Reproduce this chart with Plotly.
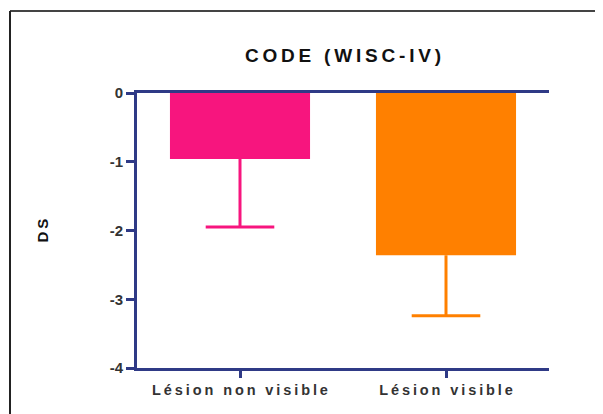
import plotly.graph_objects as go

# data
groups = ["Lésion non visible", "Lésion visible"]
means = [-0.96, -2.36]
err_down = [0.99, 0.88]
colors = ["#F7157E", "#FF8000"]
y_ticks = [0, -1, -2, -3, -4]

AXIS = "#2F3A86"
TXT = "#333333"
TS = "\u2009"  # thin space, to mimic the spaced-out lettering

# the page body adds an 8px offset, so the layout is laid out from (8, 8)
OFF = 8
L, R, T, B = 137 - OFF, 549 - OFF, 93 - OFF, 368 - OFF
PW, PH = R - L, B - T


def spaced(s):
    return TS.join(s)


fig = go.Figure()

for i, (g, m, e, c) in enumerate(zip(groups, means, err_down, colors)):
    fig.add_trace(go.Bar(
        x=[i],
        y=[m],
        marker=dict(color=c, line=dict(width=0)),
        width=0.68,
        error_y=dict(type="data", symmetric=False, array=[0], arrayminus=[e],
                     color=c, thickness=3, width=0),
        showlegend=False,
        name=g,
    ))
    # cap only at the lower end of the error bar
    fig.add_trace(go.Scatter(
        x=[i],
        y=[m - e],
        mode="markers",
        marker=dict(symbol="line-ew", size=49, color=c, line=dict(color=c, width=3)),
        showlegend=False,
        hoverinfo="skip",
    ))

fig.update_layout(
    width=603, height=414,
    margin=dict(l=L, r=603 - R, t=T, b=414 - B),
    paper_bgcolor="white",
    plot_bgcolor="white",
    font=dict(family="Liberation Sans, Arial, sans-serif", color=TXT),
    title=dict(text="<b>" + spaced("CODE (WISC-IV)") + "</b>",
               x=(343 - OFF) / 603, xanchor="center", y=1 - (55 - OFF) / 414, yanchor="middle",
               font=dict(size=19, color="#111111")),
    xaxis=dict(
        range=[-0.5, 1.5],
        tickvals=[0, 1],
        ticktext=["<b>" + spaced(g) + "</b>" for g in groups],
        tickfont=dict(size=14.5, color=TXT),
        showline=True, linecolor=AXIS, linewidth=3, mirror=True,
        ticks="outside", ticklen=7, tickwidth=3, tickcolor=AXIS,
        showgrid=False, zeroline=False,
    ),
    yaxis=dict(
        range=[-4, 0],
        tickvals=y_ticks,
        ticktext=["<b>%d</b>" % v for v in y_ticks],
        tickfont=dict(size=15, color=TXT),
        showline=True, linecolor=AXIS, linewidth=3,
        ticks="outside", ticklen=8, tickwidth=3, tickcolor=AXIS,
        showgrid=False, zeroline=False,
    ),
    annotations=[dict(
        text="<b>" + spaced("DS") + "</b>", textangle=-90,
        xref="paper", yref="paper", x=(42 - 137) / PW, y=0.5,
        xanchor="center", yanchor="middle", showarrow=False,
        font=dict(size=15, color="#111111"),
    )],
    shapes=[
        # outer frame (top and left edges visible)
        dict(type="line", xref="paper", yref="paper",
             x0=(10 - 137) / PW, x1=1.4, y0=(368 - 11) / PH, y1=(368 - 11) / PH,
             line=dict(color="#444444", width=2)),
        dict(type="line", xref="paper", yref="paper",
             x0=(10 - 137) / PW, x1=(10 - 137) / PW, y0=(368 - 11) / PH, y1=-0.4,
             line=dict(color="#222222", width=2)),
    ],
)

fig.write_html("out.html")
